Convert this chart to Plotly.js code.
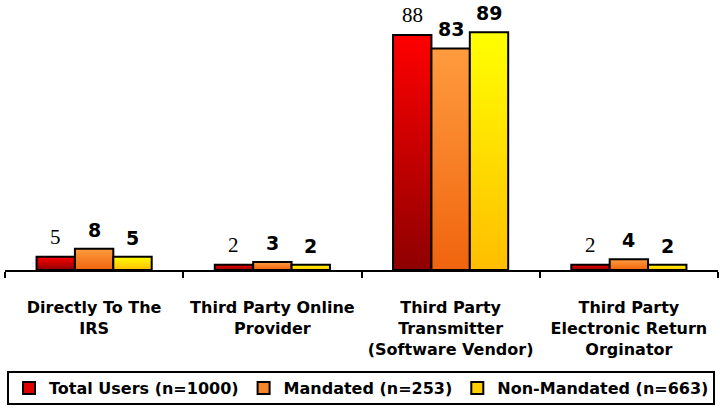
<!DOCTYPE html>
<html>
<head>
<meta charset="utf-8">
<script src="https://cdn.plot.ly/plotly-3.0.1.min.js"></script>
<style>html,body{margin:0;padding:0;background:#fff;}#chart{width:720px;height:411px;}</style>
</head>
<body>
<div id="chart"></div>
<script>
const categories = [
  "Directly To The<br>IRS",
  "Third Party Online<br>Provider",
  "Third Party<br>Transmitter<br>(Software Vendor)",
  "Third Party<br>Electronic Return<br>Orginator"
];
const seriesNames = ["Total Users (n=1000)", "Mandated (n=253)", "Non-Mandated (n=663)"];
const totalUsers = [5, 2, 88, 2];
const mandated = [8, 3, 83, 4];
const nonMandated = [5, 2, 89, 2];

const allValues = [totalUsers, mandated, nonMandated];
const baseColors = ["#E00000", "#F7862A", "#FFD000"];
const gradStops = [["#FF0000", "#8E0000"], ["#FF9C3E", "#F0640E"], ["#FFFF00", "#FFBE00"]];
const labelFonts = [
  {family: "Liberation Serif", size: 21, color: "#000", weight: "normal"},
  {family: "DejaVu Sans", size: 19, color: "#000", weight: "bold"},
  {family: "DejaVu Sans", size: 19, color: "#000", weight: "bold"}
];

const traces = allValues.map((vals, i) => ({
  type: "bar",
  name: seriesNames[i],
  x: categories,
  y: vals,
  marker: {color: baseColors[i], line: {color: "#000", width: 2}},
  hoverinfo: "none"
}));

const margin = {l: 5, r: 2, t: 3, b: 141};
const plotW = 720 - margin.l - margin.r;
const bargap = 0.354;
const catW = plotW / categories.length;
const barW = catW * (1 - bargap) / 3;

const annotations = [];
allValues.forEach((vals, i) => {
  vals.forEach((v, j) => {
    annotations.push({
      x: categories[j], y: v, xref: "x", yref: "y",
      text: String(v), showarrow: false,
      xanchor: "center", yanchor: "bottom",
      xshift: (i - 1) * barW, yshift: 6,
      font: labelFonts[i]
    });
  });
});

const layout = {
  width: 720, height: 411,
  margin: margin,
  paper_bgcolor: "#fff", plot_bgcolor: "#fff",
  barmode: "group", bargap: bargap, bargroupgap: 0,
  showlegend: true,
  legend: {
    orientation: "h", x: 0.5, xanchor: "center", y: -0.442, yanchor: "middle",
    font: {family: "DejaVu Sans", size: 16, color: "#000", weight: "bold"},
    bgcolor: "rgba(0,0,0,0)", itemclick: false, itemwidth: 30
  },
  xaxis: {
    type: "category",
    showline: true, linecolor: "#000", linewidth: 2,
    ticks: "outside", tickson: "boundaries", ticklen: 6, tickwidth: 2, tickcolor: "#000",
    ticklabelstandoff: 22,
    tickfont: {family: "DejaVu Sans", size: 16, color: "#000", weight: "bold"},
    showgrid: false, zeroline: false, fixedrange: true
  },
  yaxis: {
    range: [0, 100], visible: false, showgrid: false, zeroline: false, fixedrange: true
  },
  annotations: annotations,
  shapes: [{
    type: "rect", xref: "paper", yref: "paper",
    x0: 0.0042, x1: 0.9944, y0: -0.502, y1: -0.382,
    line: {color: "#000", width: 2}, fillcolor: "rgba(0,0,0,0)"
  }]
};

Plotly.newPlot("chart", traces, layout, {staticPlot: true, displayModeBar: false}).then(gd => {
  const svg = gd.querySelector("svg.main-svg");
  const ns = "http://www.w3.org/2000/svg";
  let defs = svg.querySelector("defs");
  if (!defs) { defs = document.createElementNS(ns, "defs"); svg.insertBefore(defs, svg.firstChild); }
  gradStops.forEach((s, i) => {
    const g = document.createElementNS(ns, "linearGradient");
    g.setAttribute("id", "barGrad" + i);
    g.setAttribute("x1", "0"); g.setAttribute("y1", "0");
    g.setAttribute("x2", "0"); g.setAttribute("y2", "1");
    [[0, s[0]], [1, s[1]]].forEach(([o, c]) => {
      const st = document.createElementNS(ns, "stop");
      st.setAttribute("offset", o); st.setAttribute("stop-color", c);
      g.appendChild(st);
    });
    defs.appendChild(g);
  });
  gd.querySelectorAll(".barlayer .trace.bars").forEach((tr, i) => {
    tr.querySelectorAll("path").forEach(p => { p.style.fill = "url(#barGrad" + i + ")"; });
  });
});
</script>
</body>
</html>
